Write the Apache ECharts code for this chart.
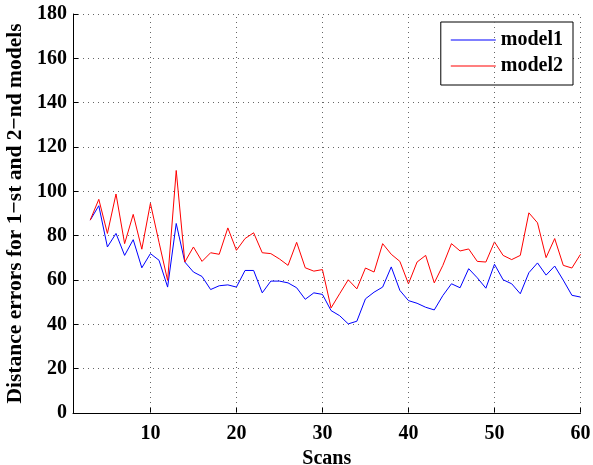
<!DOCTYPE html>
<html>
<head>
<meta charset="utf-8">
<script src="https://cdn.jsdelivr.net/npm/echarts@6/dist/echarts.min.js"></script>
<style>
html, body { margin: 0; padding: 0; background: #fff; }
#chart { width: 593px; height: 465px; }
</style>
</head>
<body>
<div id="chart"></div>
<script>
// scan numbers
const scans = [3, 4, 5, 6, 7, 8, 9, 10, 11, 12, 13, 14, 15, 16, 17, 18, 19, 20,
  21, 22, 23, 24, 25, 26, 27, 28, 29, 30, 31, 32, 33, 34, 35, 36, 37, 38, 39, 40,
  41, 42, 43, 44, 45, 46, 47, 48, 49, 50, 51, 52, 53, 54, 55, 56, 57, 58, 59, 60];

const model1 = [87, 93.5, 74.9, 81, 71.1, 78.2, 65.5, 71.9, 68.9, 56.8, 85.5, 68.1,
  63.6, 61.6, 55.7, 57.4, 57.8, 56.8, 64.3, 64.3, 54.2, 59.5, 59.5, 58.7, 56.5, 51.3,
  54.2, 53.5, 46.2, 43.9, 40.2, 41.4, 51.5, 54.5, 56.8, 65.9, 55.3, 50.7, 49.5, 47.7,
  46.5, 53, 58.3, 56.5, 65.1, 61, 56.3, 67.1, 60.1, 58.3, 53.8, 63.3, 67.7, 62.2,
  66.3, 59.9, 53.1, 52.3];

const model2 = [87, 96.4, 81, 98.8, 76.4, 89.6, 73.9, 94.6, 77, 59.8, 109.4, 68.1,
  74.9, 68.4, 72.3, 71.6, 83.5, 73.4, 78.7, 81.3, 72.3, 71.9, 69.5, 66.6, 77, 65.5,
  64, 64.7, 47.4, 53.8, 60.1, 56, 65.4, 63.6, 76.4, 71.6, 68.4, 58.3, 68.1, 71.1,
  58.7, 66.6, 76.4, 73.1, 74, 68.4, 68.1, 77.2, 71.1, 69.2, 71.1, 90.3, 85.8, 70.1,
  78.7, 66.6, 65.4, 71.6];

const xTicks = [10, 20, 30, 40, 50, 60];

const font = 'Liberation Serif';
const chart = echarts.init(document.getElementById('chart'));

const dotted = { color: '#666', type: [1, 4], width: 1 };

chart.setOption({
  animation: false,
  backgroundColor: '#fff',
  grid: { left: 73, right: 12.5, top: 14, bottom: 52, outerBoundsMode: 'none' },
  legend: {
    orient: 'vertical',
    right: 20,
    top: 22,
    padding: [7, 10, 8, 10],
    itemGap: 4,
    icon: 'rect',
    itemWidth: 45,
    itemHeight: 1.2,
    backgroundColor: '#fff',
    borderColor: '#000',
    borderWidth: 1,
    textStyle: { fontFamily: font, fontWeight: 'bold', fontSize: 20, color: '#000', lineHeight: 22 },
    data: ['model1', 'model2']
  },
  xAxis: {
    type: 'value',
    min: 1,
    max: 60,
    name: 'Scans',
    nameLocation: 'middle',
    nameGap: 29,
    nameTextStyle: { fontFamily: font, fontWeight: 'bold', fontSize: 20, color: '#000' },
    axisLine: { onZero: false, lineStyle: { color: '#000', width: 1 } },
    axisTick: { inside: true, length: 5, customValues: xTicks, lineStyle: { color: '#000' } },
    axisLabel: { customValues: xTicks, margin: 11, fontFamily: font, fontWeight: 'bold', fontSize: 20, color: '#000' },
    splitLine: { show: false }
  },
  yAxis: {
    type: 'value',
    min: 0,
    max: 180,
    interval: 20,
    name: 'Distance errors for 1\u2212st and 2\u2212nd models',
    nameLocation: 'middle',
    nameGap: 42,
    nameTextStyle: { fontFamily: font, fontWeight: 'bold', fontSize: 21.5, color: '#000' },
    axisLine: { show: true, lineStyle: { color: '#000', width: 1 } },
    axisTick: { show: true, inside: true, length: 5, lineStyle: { color: '#000' } },
    axisLabel: { margin: 6, fontFamily: font, fontWeight: 'bold', fontSize: 20, color: '#000' },
    splitLine: { show: true, lineStyle: dotted }
  },
  series: [
    {
      name: 'model1',
      type: 'line',
      symbol: 'none',
      lineStyle: { color: '#0000ff', width: 1 },
      itemStyle: { color: '#0000ff' },
      data: scans.map((s, i) => [s, model1[i]]),
      markLine: {
        silent: true,
        symbol: 'none',
        label: { show: false },
        lineStyle: dotted,
        data: xTicks.map(v => ({ xAxis: v }))
      }
    },
    {
      name: 'model2',
      type: 'line',
      symbol: 'none',
      lineStyle: { color: '#ff0000', width: 1 },
      itemStyle: { color: '#ff0000' },
      data: scans.map((s, i) => [s, model2[i]])
    }
  ]
});
</script>
</body>
</html>
